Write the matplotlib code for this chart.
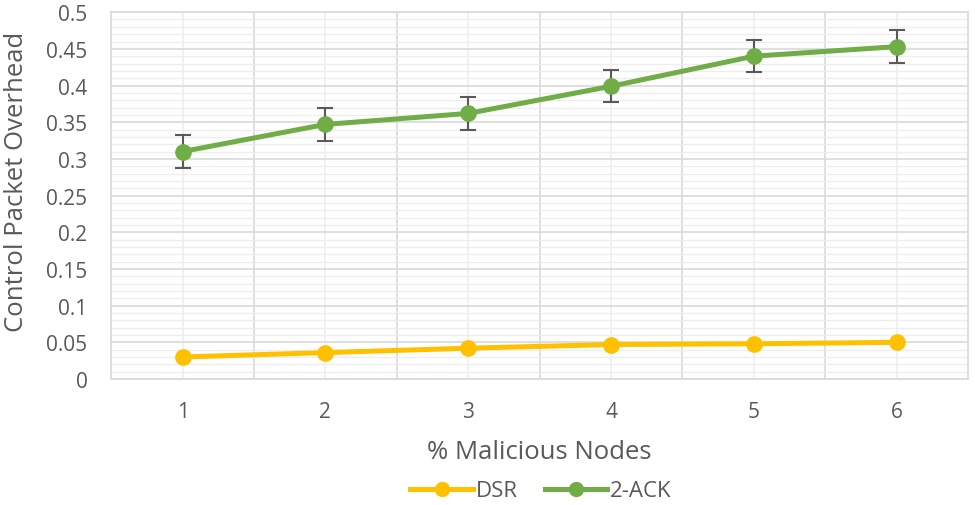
import numpy as np
import matplotlib
matplotlib.use("Agg")
from matplotlib import pyplot as plt
from matplotlib.ticker import MultipleLocator
from matplotlib.lines import Line2D

plt.rcParams['font.family'] = ['Open Sans', 'DejaVu Sans']

TEXT_GREY = "#595959"
DSR_COL = "#FFC000"
ACK_COL = "#70AD47"

nodes = [1, 2, 3, 4, 5, 6]
dsr = [0.030, 0.036, 0.042, 0.047, 0.048, 0.050]
ack2 = [0.310, 0.347, 0.362, 0.399, 0.440, 0.453]
ack2_err = [0.022, 0.022, 0.022, 0.022, 0.022, 0.022]

fig = plt.figure(figsize=(9.75, 5.06), dpi=100)
ax = fig.add_axes([0.114, 0.249, 0.879, 0.725])

x = np.arange(len(nodes))
ax.plot(x, dsr, color=DSR_COL, lw=3.6, marker="o", ms=11, zorder=3)
ax.errorbar(x, ack2, yerr=ack2_err, color=ACK_COL, lw=3.6, marker="o", ms=11,
            ecolor="#595959", elinewidth=1.5, capsize=6, capthick=1.5, zorder=3)

ax.set_xlim(-0.5, len(nodes) - 0.5)
ax.set_ylim(0, 0.5)
ax.set_xticks(x)
ax.set_xticklabels([str(n) for n in nodes])
ax.yaxis.set_minor_locator(MultipleLocator(0.01))
ax.set_yticks(np.arange(0, 0.51, 0.05))
ax.set_yticklabels(["0", "0.05", "0.1", "0.15", "0.2", "0.25", "0.3", "0.35", "0.4", "0.45", "0.5"])
ax.set_xticks(np.arange(0.5, len(nodes) - 0.5), minor=True)

# grid: darker major lines between categories and every 0.05, light ones elsewhere
ax.grid(which="major", axis="y", color="#D9D9D9", lw=1.2, zorder=0)
ax.grid(which="minor", axis="y", color="#EDEDED", lw=0.9, zorder=0)
ax.grid(which="minor", axis="x", color="#D9D9D9", lw=1.2, zorder=0)
ax.grid(which="major", axis="x", color="#EFEFEF", lw=1.2, zorder=0)
ax.set_axisbelow(True)

for s in ax.spines.values():
    s.set_color("#D9D9D9")
    s.set_linewidth(1.2)

ax.tick_params(which="both", length=0, colors=TEXT_GREY, labelsize=15)
ax.tick_params(axis="x", pad=16)
ax.tick_params(axis="y", pad=17)

ax.set_xlabel("% Malicious Nodes", color=TEXT_GREY, fontsize=18.5, labelpad=12)
ax.set_ylabel("Control Packet Overhead", color=TEXT_GREY, fontsize=18.5)
ax.yaxis.set_label_coords(-0.096, 0.54)

handles = [Line2D([], [], color=DSR_COL, lw=3.6, marker="o", ms=10),
           Line2D([], [], color=ACK_COL, lw=3.6, marker="o", ms=10)]
leg = fig.legend(handles, ["DSR", "2-ACK"], loc="center", bbox_to_anchor=(0.555, 0.028),
                 ncol=2, frameon=False, fontsize=16, handlelength=2.8,
                 columnspacing=1.2, handletextpad=0.15)
for t in leg.get_texts():
    t.set_color(TEXT_GREY)

fig.savefig("out.png", dpi=100)
